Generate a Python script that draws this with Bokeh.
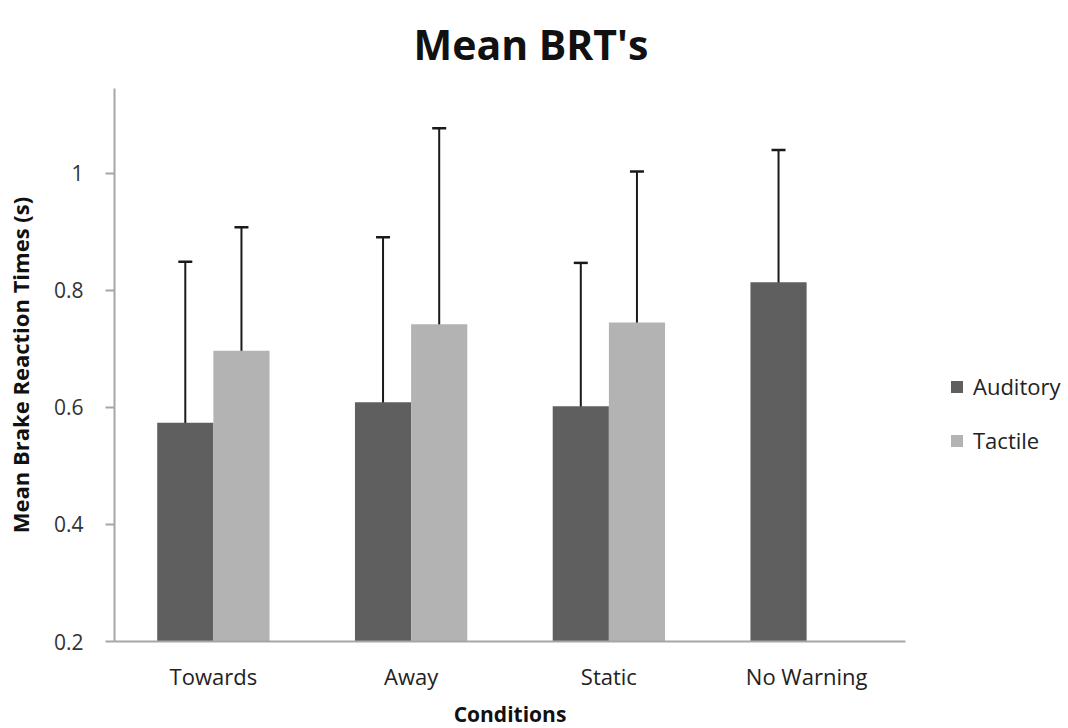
from bokeh.plotting import figure
from bokeh.models import (ColumnDataSource, FactorRange, Range1d, Whisker, TeeHead,
                          Legend, LegendItem, FixedTicker)
from bokeh.transform import dodge
from bokeh.embed import file_html
from bokeh.resources import INLINE

# Mean brake reaction times per warning condition (seconds)
conditions = ["Towards", "Away", "Static", "No Warning"]
auditory_mean = [0.574, 0.609, 0.602, 0.814]
auditory_err = [0.275, 0.282, 0.245, 0.226]
tactile_conditions = ["Towards", "Away", "Static"]
tactile_mean = [0.697, 0.742, 0.745]
tactile_err = [0.211, 0.335, 0.258]
y_ticks = [0.2, 0.4, 0.6, 0.8, 1.0]

AUD_COLOR = "#5f5f5f"
TAC_COLOR = "#b3b3b3"
AXIS_COLOR = "#a6a6a6"
ERR_COLOR = "#1a1a1a"
FONT = "Open Sans"

aud_src = ColumnDataSource(dict(
    cond=conditions, mean=auditory_mean,
    upper=[m + e for m, e in zip(auditory_mean, auditory_err)],
    lower=[m - e for m, e in zip(auditory_mean, auditory_err)],
))
tac_src = ColumnDataSource(dict(
    cond=tactile_conditions, mean=tactile_mean,
    upper=[m + e for m, e in zip(tactile_mean, tactile_err)],
    lower=[m - e for m, e in zip(tactile_mean, tactile_err)],
))

p = figure(frame_width=791, frame_height=553, output_backend="svg", toolbar_location=None,
           x_range=FactorRange(*conditions, range_padding=0),
           y_range=Range1d(0.2, 1.145))
p.min_border_left = 114
p.min_border_right = 163
p.min_border_top = 88
p.min_border_bottom = 80
p.outline_line_color = None
p.xgrid.grid_line_color = None
p.ygrid.grid_line_color = None
p.background_fill_color = "white"
p.border_fill_color = "white"

# title at the top of the upper border
p.title.text = "Mean BRT's"
p.title.align = "left"
p.title.offset = 299
p.title.vertical_align = "top"
p.title.standoff = 30
p.title.text_font = FONT
p.title.text_font_style = "bold"
p.title.text_font_size = "41px"
p.title.text_color = "#111111"

BAR_W = 0.284
OFF = 0.142

aud = p.vbar(x=dodge("cond", -OFF, range=p.x_range), top="mean", bottom=0.2,
             width=BAR_W, source=aud_src, fill_color=AUD_COLOR, line_color=None)
tac = p.vbar(x=dodge("cond", OFF, range=p.x_range), top="mean", bottom=0.2,
             width=BAR_W, source=tac_src, fill_color=TAC_COLOR, line_color=None)

# standard error whiskers
for src, off in ((aud_src, -OFF), (tac_src, OFF)):
    w = Whisker(base=dodge("cond", off, range=p.x_range), upper="upper", lower="lower",
                source=src, line_color=ERR_COLOR, line_width=2,
                upper_head=TeeHead(size=14, line_color=ERR_COLOR, line_width=2.5),
                lower_head=TeeHead(size=14, line_color=ERR_COLOR, line_width=2.5))
    p.add_layout(w)

# axes
p.yaxis.ticker = FixedTicker(ticks=y_ticks)
p.yaxis.major_label_overrides = {1.0: "1"}
p.yaxis.minor_tick_line_color = None
p.yaxis.major_tick_in = 0
p.yaxis.major_tick_out = 9
p.yaxis.major_tick_line_color = AXIS_COLOR
p.yaxis.major_tick_line_width = 2
p.yaxis.axis_line_color = AXIS_COLOR
p.yaxis.axis_line_width = 2
p.yaxis.major_label_text_font = FONT
p.yaxis.major_label_text_font_size = "21px"
p.yaxis.major_label_text_color = "#333333"
p.yaxis.major_label_standoff = 22
p.yaxis.axis_label = "Mean Brake Reaction Times (s)"
p.yaxis.axis_label_text_font = FONT
p.yaxis.axis_label_text_font_style = "bold"
p.yaxis.axis_label_text_font_size = "22px"
p.yaxis.axis_label_text_color = "#111111"
p.yaxis.axis_label_standoff = 16

p.xaxis.major_tick_line_color = None
p.xaxis.minor_tick_line_color = None
p.xaxis.major_tick_out = 0
p.xaxis.major_tick_in = 0
p.xaxis.axis_line_color = AXIS_COLOR
p.xaxis.axis_line_width = 2
p.xaxis.major_label_text_font = FONT
p.xaxis.major_label_text_font_size = "22px"
p.xaxis.major_label_text_color = "#222222"
p.xaxis.major_label_standoff = 19
p.xaxis.axis_label = "Conditions"
p.xaxis.axis_label_text_font = FONT
p.xaxis.axis_label_text_font_style = "bold"
p.xaxis.axis_label_text_font_size = "21px"
p.xaxis.axis_label_text_color = "#111111"
p.xaxis.axis_label_standoff = 6

legend = Legend(items=[LegendItem(label="Auditory", renderers=[aud]),
                       LegendItem(label="Tactile", renderers=[tac])],
                location=(44, 186), border_line_color=None, background_fill_alpha=0,
                glyph_width=15, glyph_height=15, label_text_font=FONT,
                label_text_font_size="22px", label_text_color="#222222",
                label_height=20, spacing=24, margin=0, padding=0, label_standoff=9)
p.add_layout(legend, "right")

open("out.html", "w").write(file_html(p, INLINE))
